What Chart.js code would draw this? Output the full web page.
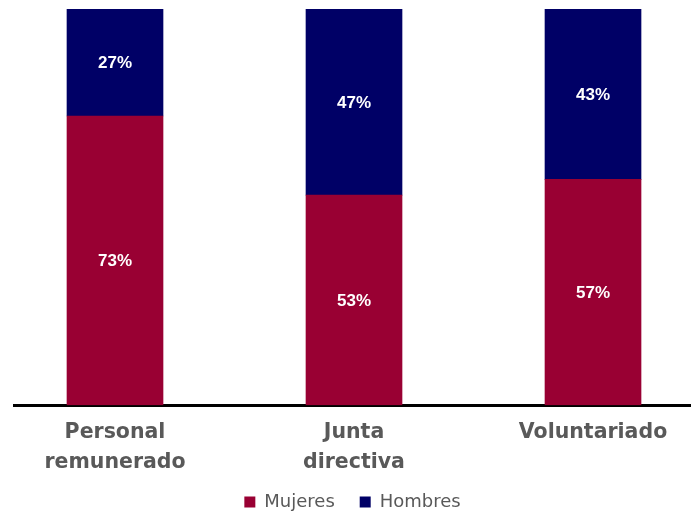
<!DOCTYPE html>
<html>
<head>
<meta charset="utf-8">
<script src="https://cdn.jsdelivr.net/npm/chart.js@4"></script>
<style>
  html, body { margin: 0; padding: 0; background: #fff; }
  #wrap { width: 691px; height: 515px; }
</style>
</head>
<body>
<div id="wrap"><canvas id="chart1"></canvas></div>
<script>
var categories = [["Personal", "remunerado"], ["Junta", "directiva"], ["Voluntariado"]];
var mujeres = [73, 53, 57];
var hombres = [27, 47, 43];

// etiquetas de porcentaje en el centro de cada tramo
var valueLabels = {
    id: 'valueLabels',
    afterDatasetsDraw: function(chart) {
        var ctx = chart.ctx;
        ctx.save();
        ctx.fillStyle = '#ffffff';
        ctx.font = 'bold 17px "Liberation Sans", Arial, sans-serif';
        ctx.textAlign = 'center';
        ctx.textBaseline = 'middle';
        chart.data.datasets.forEach(function(ds, i) {
            chart.getDatasetMeta(i).data.forEach(function(bar, j) {
                var y = (bar.y + bar.base) / 2;
                ctx.fillText(ds.data[j].y + '%', bar.x, y + 1);
            });
        });
        ctx.restore();
    }
};

function points(values) {
    return values.map(function(v, i) { return { x: i, y: v }; });
}

var ctx = document.getElementById('chart1').getContext('2d');
var chart = new Chart(ctx, {
    type: 'bar',
    data: {
        datasets: [
            { label: 'Mujeres', data: points(mujeres), backgroundColor: '#990033', barThickness: 96 },
            { label: 'Hombres', data: points(hombres), backgroundColor: '#000066', barThickness: 96 }
        ]
    },
    options: {
        responsive: true,
        maintainAspectRatio: false,
        animation: false,
        layout: { padding: { left: 14, right: 0, top: 9, bottom: -6 } },
        plugins: {
            tooltip: { enabled: false },
            legend: {
                position: 'bottom',
                labels: {
                    boxWidth: 11,
                    boxHeight: 11,
                    padding: 2,
                    color: '#595959',
                    font: { family: '"DejaVu Sans", sans-serif', size: 18 },
                    generateLabels: function(chart) {
                        var items = Chart.defaults.plugins.legend.labels.generateLabels(chart);
                        // algo más de aire entre los dos elementos
                        items[0].text += '    ';
                        return items;
                    }
                }
            }
        },
        scales: {
            x: {
                type: 'linear',
                stacked: true,
                offset: false,
                min: -0.4226,
                max: 2.41,
                afterBuildTicks: function(axis) {
                    axis.ticks = categories.map(function(c, i) { return { value: i }; });
                },
                grid: { display: false, drawTicks: false, tickLength: 0 },
                border: { display: true, color: '#000000', width: 3 },
                ticks: {
                    autoSkip: false,
                    maxRotation: 0,
                    padding: 13,
                    color: '#595959',
                    font: { family: '"DejaVu Sans", sans-serif', size: 20.5, weight: 'bold', lineHeight: 1.46 },
                    callback: function(value) { return categories[Math.round(value)]; }
                }
            },
            y: {
                stacked: true,
                min: 0,
                max: 100,
                display: false
            }
        }
    },
    plugins: [valueLabels]
});
</script>
</body>
</html>
